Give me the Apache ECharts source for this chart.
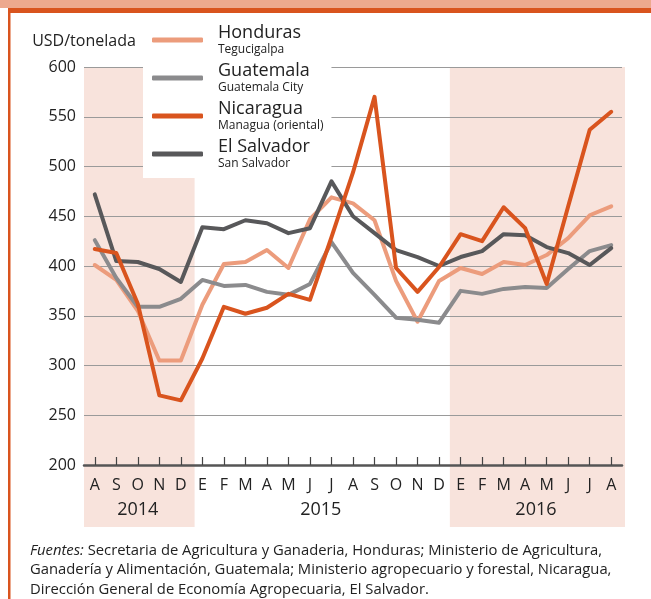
<!DOCTYPE html>
<html>
<head>
<meta charset="utf-8">
<script src="https://cdn.jsdelivr.net/npm/echarts@6/dist/echarts.min.js"></script>
<style>
html,body{margin:0;padding:0;background:#fff;}
#c{width:651px;height:599px;}
</style>
</head>
<body>
<div id="c"></div>
<script>
// ---- data ----
const months = ['A','S','O','N','D','E','F','M','A','M','J','J','A','S','O','N','D','E','F','M','A','M','J','J','A'];
const years = ['2014','2015','2016'];
const yearStart = [0, 5, 17];   // first category index of each year
const yearEnd = [4, 16, 24];    // last category index of each year
const shadedYears = [0, 2];
const yTicks = [200, 250, 300, 350, 400, 450, 500, 550, 600];

const names = ['Honduras', 'Guatemala', 'Nicaragua', 'El Salvador'];
const cities = ['Tegucigalpa', 'Guatemala City', 'Managua (oriental)', 'San Salvador'];

const honduras   = [401, 386, 355, 305, 305, 361, 402, 404, 416, 398, 447, 469, 463, 446, 385, 344, 385, 398, 392, 404, 401, 411, 428, 451, 460];
const guatemala  = [426, 388, 359, 359, 367, 386, 380, 381, 374, 371, 382, 424, 393, 371, 348, 346, 343, 375, 372, 377, 379, 378, 397, 415, 421];
const nicaragua  = [417, 413, 362, 270, 265, 307, 359, 352, 358, 372, 366, 429, 494, 570, 398, 374, 399, 432, 425, 459, 438, 382, 460, 537, 555];
const elsalvador = [472, 405, 404, 397, 384, 439, 437, 446, 443, 433, 438, 485, 450, 433, 416, 409, 400, 409, 415, 432, 431, 419, 413, 401, 418];

const footLines = [
  '{i|Fuentes:} Secretaria de Agricultura y Ganaderia, Honduras; Ministerio de Agricultura,',
  'Ganadería y Alimentación, Guatemala; Ministerio agropecuario y forestal, Nicaragua,',
  'Dirección General de Economía Agropecuaria, El Salvador.'
];

// ---- styles ----
const FONT = "'Open Sans', sans-serif";
const colors = ['#EC9C7C', '#8B8B8D', '#D9541E', '#58585A'];
const shadeColor = '#F8E3DC';
const textColor = '#222';

const chart = echarts.init(document.getElementById('c'), null, {renderer: 'canvas'});

const seriesData = [honduras, guatemala, nicaragua, elsalvador];
const series = names.map((n, i) => ({
  name: n,
  type: 'line',
  data: seriesData[i],
  symbol: 'none',
  lineStyle: {color: colors[i], width: 4, cap: 'round', join: 'round'},
  itemStyle: {color: colors[i]},
  z: 3 + (i === 2 ? 1 : 0)
}));

const option = {
  animation: false,
  backgroundColor: '#fff',
  textStyle: {fontFamily: FONT},
  grid: {left: 84, right: 29, top: 67, bottom: 134},
  legend: {
    orient: 'vertical',
    left: 143,
    top: 22,
    padding: [2, 8, 8, 9],
    backgroundColor: '#fff',
    itemWidth: 51,
    itemHeight: 5,
    itemGap: 6,
    icon: 'roundRect',
    data: names,
    formatter: function (n) {
      const i = names.indexOf(n);
      return '{a|' + n + '}\n{b|' + cities[i] + '}';
    },
    textStyle: {
      color: textColor,
      padding: [0, 0, 0, 10],
      rich: {
        a: {fontSize: 18, lineHeight: 20, color: textColor, fontFamily: FONT},
        b: {fontSize: 12, lineHeight: 14, color: textColor, fontFamily: FONT}
      }
    },
    z: 10
  },
  xAxis: {
    type: 'category',
    data: months,
    boundaryGap: true,
    axisLine: {lineStyle: {color: '#555', width: 2.5}},
    axisTick: {show: true, inside: true, length: 8, alignWithLabel: true, lineStyle: {color: '#444', width: 1.2}},
    axisLabel: {color: textColor, fontSize: 16, margin: 12, interval: 0, fontFamily: FONT},
    splitLine: {show: false}
  },
  yAxis: {
    type: 'value',
    min: yTicks[0],
    max: yTicks[yTicks.length - 1],
    interval: 50,
    name: 'USD/tonelada',
    nameLocation: 'end',
    nameGap: 18,
    nameTextStyle: {color: textColor, fontSize: 16, fontFamily: FONT},
    axisLine: {show: false},
    axisTick: {show: false},
    axisLabel: {color: textColor, fontSize: 16, margin: 8, fontFamily: FONT},
    splitLine: {lineStyle: {color: '#9A9A9A', width: 1.2}}
  },
  series: series
};

chart.setOption(option);

// ---- decorations derived from the library's own scales ----
function buildGraphic() {
  const c0 = chart.convertToPixel({xAxisIndex: 0}, 0);
  const c1 = chart.convertToPixel({xAxisIndex: 0}, 1);
  const band = c1 - c0;
  const yTop = chart.convertToPixel({yAxisIndex: 0}, yTicks[yTicks.length - 1]);
  const yBase = chart.convertToPixel({yAxisIndex: 0}, yTicks[0]);
  const els = [];
  // header bands and left border
  els.push({type: 'rect', shape: {x: 0, y: 0, width: 651, height: 8}, style: {fill: '#EDA98E'}, z: -50});
  els.push({type: 'rect', shape: {x: 8, y: 8, width: 643, height: 5}, style: {fill: '#D9541E'}, z: -50});
  els.push({type: 'rect', shape: {x: 8, y: 8, width: 2.5, height: 591}, style: {fill: '#D9541E'}, z: -50});
  shadedYears.forEach(function (k) {
    const x0 = chart.convertToPixel({xAxisIndex: 0}, yearStart[k]) - band / 2;
    const x1 = chart.convertToPixel({xAxisIndex: 0}, yearEnd[k]) + band / 2;
    els.push({type: 'rect', shape: {x: x0, y: yTop, width: x1 - x0 + 3, height: yBase - yTop + 62}, style: {fill: shadeColor}, z: -40});
  });
  years.forEach(function (y, k) {
    const xs = chart.convertToPixel({xAxisIndex: 0}, yearStart[k]);
    const xe = chart.convertToPixel({xAxisIndex: 0}, yearEnd[k]);
    els.push({type: 'text', x: (xs + xe) / 2, y: yBase + 45, style: {text: y, fill: textColor, font: '18px ' + FONT, align: 'center', verticalAlign: 'middle'}, z: 5});
  });
  els.push({
    type: 'text', x: 30, y: 541,
    style: {
      text: footLines.join('\n'),
      fill: textColor,
      font: '14.8px ' + FONT,
      lineHeight: 19.5,
      rich: {i: {fontStyle: 'italic', fontSize: 14.8, fontFamily: FONT, fill: textColor}}
    },
    z: 5
  });
  return els;
}
chart.setOption({graphic: {elements: buildGraphic()}});
</script>
</body>
</html>
